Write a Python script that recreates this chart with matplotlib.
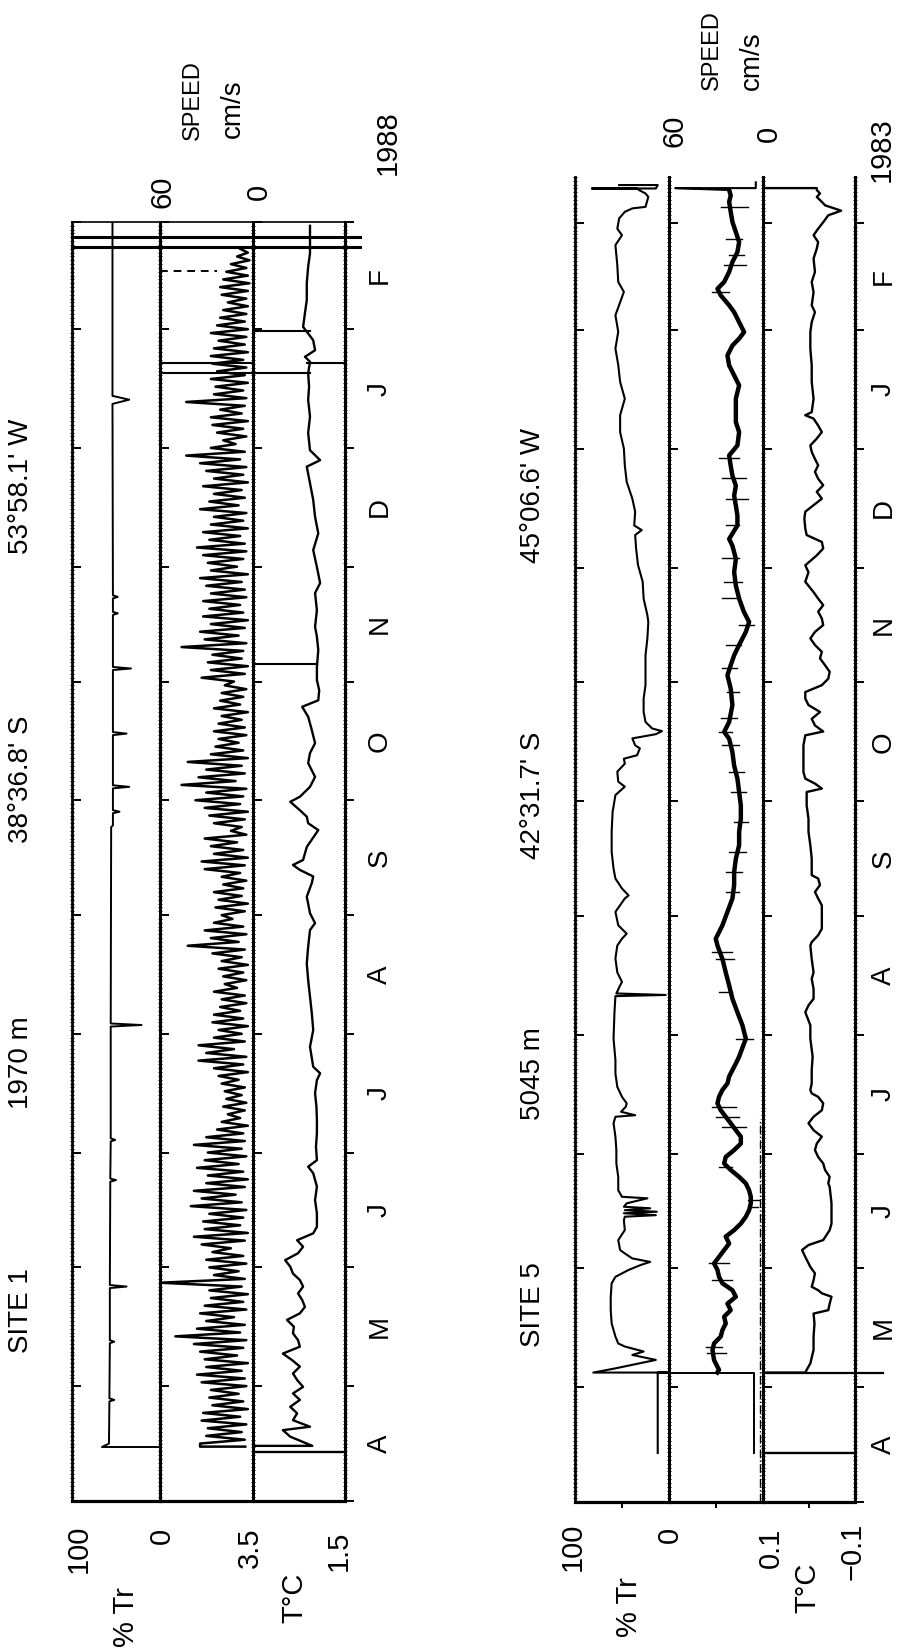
import numpy as np
import matplotlib
matplotlib.use('Agg')
import matplotlib.pyplot as plt
from matplotlib import transforms
from matplotlib.ticker import FixedLocator, MultipleLocator

plt.rcParams['font.family'] = ['Liberation Sans', 'DejaVu Sans']

# ------------------------------------------------------------------ data
# time axis: days since 1 April
month_starts = [0, 30, 61, 91, 122, 153, 183, 214, 244, 275, 306, 334]
month_labels = ['A', 'M', 'J', 'J', 'A', 'S', 'O', 'N', 'D', 'J', 'F']

# ---- SITE 1 (1987-88) ----
tr1_days = [14.1, 14.1, 15.0, 26.0, 26.4, 26.8, 41.2, 41.6, 42.0, 55.6, 56.0, 56.4,
            83.4, 83.8, 84.2, 93.9, 94.3, 94.7, 123.9, 124.3, 124.7, 176.0, 176.4,
            179.6, 180.0, 180.4, 186.1, 186.5, 186.9, 200.0, 200.4, 200.8, 217.0, 217.4,
            217.8, 231.4, 231.8, 232.2, 235.7, 236.1, 236.5, 286.5, 287.6, 288.6, 327.4, 334.0]
tr1_vals = [0, 66, 58, 57.5, 52, 57.5, 57, 52, 57, 57, 38, 57,
            56.5, 50, 56.5, 56, 51, 56, 56, 21, 56, 55.5, 53.5,
            53.5, 46, 53.5, 53.5, 35, 53.5, 53.5, 38, 53.5, 53.5, 33,
            53.5, 53.5, 48, 53.5, 53.5, 48, 53.5, 54, 35, 54, 54, 54]

spd1_start_days = [14.2, 14.2]
spd1_start_vals = [4.7, 34]
spd1_first_day = 15          # speed sampled once per day from here on
spd1_hi = [34, 30, 29, 33, 32, 26, 28, 27, 33, 36, 30, 31, 34, 38, 50, 36, 30, 34, 31, 27,
           28, 60, 25, 28, 30, 26, 33, 38, 31, 32, 28, 40, 33, 38, 30, 29, 36, 31, 29, 38,
           30, 23, 20, 16, 19, 17, 18, 20, 22, 25, 35, 30, 35, 25, 22, 26, 25, 21, 20, 25,
           18, 19, 22, 20, 26, 42, 27, 31, 25, 20, 24, 22, 25, 19, 20, 31, 33, 25, 27, 31,
           14, 25, 28, 31, 37, 30, 46, 35, 30, 42, 27, 24, 22, 25, 22, 20, 25, 21, 20, 18,
           33, 27, 29, 26, 46, 31, 34, 27, 32, 28, 32, 27, 30, 34, 27, 29, 32, 36, 28, 32,
           27, 25, 34, 28, 25, 32, 25, 30, 34, 43, 27, 19, 23, 26, 27, 21, 43, 25, 24, 27,
           23, 26, 27, 25, 22, 27, 23, 21, 19, 16, 20, 21, 19, 17, 14, 10, 8]
spd1_lo = [5, 7, 4, 8, 3, 6, 9, 4, 5, 7, 3, 10, 6, 4, 8, 5, 12, 4, 6, 3,
           7, 5, 9, 4, 6, 14, 5, 3, 8, 6, 4, 7, 11, 5, 3, 6, 9, 4, 7, 5,
           6, 3, 8, 5, 4, 7, 5, 9, 3, 6, 4, 12, 5, 7, 3, 6, 8, 4, 5, 10,
           4, 6, 3, 7, 5, 9, 4, 6, 13, 5, 3, 7, 6, 4, 8, 5, 3, 6, 10, 4,
           7, 5, 3, 8, 6, 4, 11, 5, 7, 3, 6, 9, 4, 5, 7, 3, 8, 6, 4, 12,
           5, 3, 7, 6, 4, 9, 5, 3, 6, 8, 4, 5, 7, 3, 10, 6, 4, 5, 8, 3,
           6, 4, 9, 5, 7, 3, 6, 4, 8, 5, 11, 4, 6, 3, 7, 5, 4, 6, 3, 5,
           4, 6, 3, 5, 4, 3, 5, 4, 3, 4, 3, 2, 3, 4, 2, 3]

t1_days = [12.8, 12.8, 14.4, 14.4,
           16.8, 18.5, 19.4, 21.1, 22.9, 24.6, 26.4, 28.1, 29.8, 31.6,
           33.3, 35.1, 36.8, 38.5, 40.3, 42.0, 43.8, 45.5, 47.3, 49.0,
           50.7, 52.5, 54.2, 56.0, 57.7, 59.4, 61.2, 62.9, 64.7, 66.4,
           68.1, 69.9, 71.6, 75.1, 78.6, 82.1, 85.6, 87.3, 89.0, 92.5,
           96.0, 99.5, 103.0, 106.5, 109.9, 111.7, 113.4, 118.6, 123.0, 127.3,
           131.7, 136.0, 140.4, 144.7, 149.1, 150.9, 153.5, 157.8, 161.4, 163.1,
           164.8, 166.1, 167.4, 170.8, 175.2, 177.0, 178.7, 180.4, 182.6, 183.9,
           186.5, 189.1, 192.7, 195.3, 197.9, 201.3, 204.8, 207.4, 209.1, 211.7,
           214.4, 217.8, 222.2, 225.7, 228.3, 232.6, 237.1, 239.7, 243.9, 248.3,
           252.7, 257.0, 261.4, 265.8, 270.1, 271.8, 274.4, 278.9, 283.2, 287.5,
           291.0, 294.5, 297.5, 298.8, 300.5, 303.1, 304.9, 306.6, 310.2, 313.6,
           318.0, 322.3, 325.8, 327.4, 333.0]
t1_vals = [1.5, 3.5, 3.5, 2.2,
           2.68, 2.84, 2.25, 2.62, 2.53, 2.68, 2.47, 2.62, 2.40, 2.53,
           2.62, 2.47, 2.64, 2.84, 2.47, 2.51, 2.62, 2.60, 2.75, 2.47,
           2.36, 2.42, 2.51, 2.40, 2.47, 2.62, 2.68, 2.79, 2.51, 2.40,
           2.53, 2.18, 2.10, 2.10, 2.14, 2.10, 2.18, 2.29, 2.10, 2.12,
           2.10, 2.10, 2.11, 2.14, 2.10, 2.03, 2.18, 2.25, 2.18, 2.21,
           2.25, 2.29, 2.32, 2.29, 2.25, 2.14, 2.25, 2.32, 2.21, 2.18,
           2.47, 2.62, 2.40, 2.32, 2.07, 2.29, 2.32, 2.47, 2.68, 2.47,
           2.25, 2.14, 2.29, 2.25, 2.14, 2.21, 2.29, 2.42, 2.07, 2.05,
           2.10, 2.10, 2.07, 2.10, 2.14, 2.10, 2.14, 2.03, 2.10, 2.18,
           2.07, 2.14, 2.18, 2.25, 2.32, 2.03, 2.25, 2.29, 2.25, 2.29,
           2.27, 2.29, 2.25, 2.36, 2.14, 2.18, 2.29, 2.40, 2.36, 2.32,
           2.32, 2.29, 2.25, 2.25, 2.25]

# recorder pen excursions (panel, day, from, to)
mk1_panel = ['spd', 'spd', 'T', 'T', 'T', 'T']
mk1_day = [297.1, 294.5, 294.5, 297.1, 305.5, 218.5]
mk1_v0 = [60, 60, 3.5, 2.32, 3.5, 3.5]
mk1_v1 = [0, 0, 2.25, 1.5, 2.25, 2.10]
dash1_day, dash1_v0, dash1_v1 = 321.3, 60, 23
end1_days = [327.4, 330.0]

# ---- SITE 5 (1982-83) ----
tr5_days = [12.8, 33.8, 33.8, 33.8,
            34.9, 37.1, 38.4, 39.3, 40.6, 41.4,
            43.2, 46.6, 50.1, 53.6, 57.1, 58.8,
            60.6, 61.9, 62.7, 63.6, 64.9, 65.8,
            68.4, 71.0, 73.6, 74.5,
            74.9, 75.4, 75.8, 76.2, 76.7, 77.1, 78.0, 79.3, 79.7,
            81.4, 84.9, 88.4, 91.9, 95.4, 98.9,
            100.6, 101.0, 101.9, 103.2, 104.1, 105.8,
            108.4, 111.9, 115.4, 121.0, 127.9,
            132.1, 132.4, 132.8, 134.9, 135.8,
            138.3, 141.9, 145.3, 147.1, 148.4,
            150.6, 154.1, 157.6, 158.4, 160.2,
            162.8, 165.4, 169.8, 175.0, 180.2,
            184.6, 186.8, 188.1, 190.7, 192.8,
            194.1, 195.0, 196.8, 197.6, 199.4,
            200.5, 201.3, 202.0, 203.7, 206.3,
            209.8, 213.3, 216.8, 221.1, 225.5, 229.8,
            231.6, 235.9, 240.3, 244.7, 249.0,
            252.5, 253.8, 255.0, 258.6, 262.0,
            266.4, 270.7, 275.1, 279.4, 283.8,
            288.1, 292.5, 296.9, 301.2, 305.6,
            309.9, 316.0, 318.6, 323.0, 328.2,
            330.8, 332.5, 335.2, 336.9, 337.8,
            338.2, 340.8, 341.7, 342.6,
            343.0, 343.0, 343.0, 343.9, 343.9]
tr5_vals = [12, 12, 0, 80.5,
            57, 14, 39, 27, 47, 54,
            57, 61, 62, 62, 61, 57,
            43, 30, 20, 39, 47, 52,
            54, 47, 48, 47,
            14, 48, 13, 47, 20, 48, 45, 23, 50,
            54, 54, 56, 56, 57, 59,
            57, 36, 51, 46, 45, 50,
            55, 57, 57, 59, 58,
            57, 3.5, 56, 52, 50,
            55, 57, 55, 50, 45,
            54, 57, 47, 43, 50,
            57, 59, 61, 61, 60,
            57, 47, 54, 55, 47,
            48, 34, 31, 36, 39,
            14, 7.5, 18, 25, 27,
            27, 25, 25, 25, 23, 22,
            23, 27, 28, 33, 35,
            36, 29, 37, 36, 39,
            45, 47, 48, 52, 52,
            47, 52, 54, 57, 54,
            57, 48, 54, 55, 57,
            50, 55, 53, 47, 39,
            25, 22, 25, 32,
            34, 82, 14, 12, 53]

# pre-deployment part of the speed record
spd5_pre_days = [12.8, 33.8, 33.8]
spd5_pre_vals = [5.4, 5.4, 59]
spd5_days = [33.8,
             34.5, 37.1, 39.7, 41.4, 43.2, 44.9, 46.6, 48.4, 50.1, 51.8,
             53.6, 55.3, 57.1, 58.8, 60.6, 62.3, 64.0, 65.8, 67.5, 69.3,
             71.0, 72.7, 74.5, 76.2, 78.0, 79.7, 81.4, 83.2, 84.9, 86.7,
             88.4, 90.1, 91.9, 93.6, 95.4, 97.1, 98.9, 100.6, 102.3, 104.1,
             105.8, 107.6, 109.3, 111.1, 112.8, 114.5, 116.3,
             121.0, 124.5, 127.9, 131.4, 134.9, 138.3, 141.8, 145.3, 147.1, 148.8,
             150.6, 154.1, 157.6, 161.1, 164.5, 168.0, 171.5, 175.0, 178.4, 181.9,
             185.4, 188.9, 192.3, 195.8, 199.3, 201.1, 203.7, 208.1, 212.4, 215.9,
             218.5, 221.1, 223.8, 227.2, 229.8, 232.5,
             235.9, 239.3, 242.8, 246.3, 249.7, 251.5, 255.0, 257.6, 260.2, 262.8,
             265.4, 268.0, 270.6, 273.3, 275.9, 279.4, 282.0, 284.6, 288.1, 291.6,
             295.1, 296.8, 299.4, 302.0, 303.8, 305.5, 308.1, 310.7, 312.5, 315.1,
             316.8, 318.6, 321.2, 323.8, 326.4, 329.0, 331.6, 334.3, 336.9, 339.5,
             341.2, 342.6]
spd5_vals = [29.0,
             27.9, 31.1, 32.1, 31.1, 26.8, 25.7, 23.6, 24.6, 20.4, 22.5,
             17.1, 19.3, 25.7, 27.9, 28.9, 31.1, 27.9, 24.6, 21.4, 23.6,
             18.2, 13.9, 10.7, 8.6, 7.5, 7.5, 8.6, 10.7, 15.0, 20.4,
             24.6, 23.6, 18.2, 13.9, 13.9, 17.1, 20.4, 23.6, 26.8, 28.9,
             27.9, 25.7, 22.5, 21.4, 19.3, 17.1, 15.0,
             10.7, 12.9, 16.1, 19.3, 21.4, 23.6, 25.7, 28.9, 30.0, 27.9,
             25.7, 22.5, 19.3, 18.2, 18.2, 17.1, 15.0, 15.0, 13.9, 13.9,
             15.0, 16.1, 18.2, 19.3, 21.4, 24.6, 21.4, 19.3, 20.4, 22.5,
             20.4, 18.2, 15.0, 10.7, 8.6, 12.0,
             15.0, 17.1, 18.2, 17.1, 19.3, 21.4, 16.1, 16.1, 17.1, 18.2,
             17.1, 19.3, 20.4, 21.4, 16.1, 15.0, 17.1, 17.1, 17.1, 15.0,
             19.3, 21.4, 22.5, 19.3, 15.0, 11.8, 15.0, 18.2, 21.4, 26.8,
             28.9, 24.6, 21.4, 19.3, 16.1, 15.0, 17.1, 19.3, 20.4, 21.4,
             20.4, 21.4]
# recovery: pen swings across the speed panel
spd5_end_days = [342.6, 343.1, 343.1, 344.6]
spd5_end_vals = [21.4, 56, 4.3, 4.3]
# short noise excursions on the speed record (day, low, high)
spk5_days = [338.2, 329.9, 325.6, 323.0, 316.0, 272.5, 267.3, 262.0, 255.1, 246.4,
             240.3, 236.0, 229.0, 223.8, 217.7, 211.5, 204.6, 201.1, 197.6, 190.7,
             185.4, 177.6, 169.8, 164.5, 159.3, 143.6, 141.8, 133.1, 121.0, 103.2,
             100.6, 98.0, 87.6, 78.9, 77.1, 62.3, 57.9, 40.6, 38.8]
spk5_lo = [9.6, 12.9, 11.8, 10.7, 21.4, 15.0, 10.7, 9.6, 15.0, 15.0,
           12.9, 17.1, 5.4, 13.9, 16.1, 15.0, 16.1, 19.3, 15.0, 11.8,
           10.7, 9.6, 10.7, 12.9, 15.0, 19.3, 18.2, 19.3, 6.4, 17.1,
           15.0, 10.7, 19.3, 2.1, 3.2, 21.4, 19.3, 25.7, 23.6]
spk5_hi = [26.8, 23.6, 21.4, 24.6, 32.1, 27.9, 25.7, 23.6, 23.6, 25.7,
           24.6, 25.7, 15.0, 23.6, 25.7, 22.5, 26.8, 27.9, 25.7, 21.4,
           20.4, 18.2, 21.4, 23.6, 23.6, 32.1, 30.0, 27.9, 17.1, 32.1,
           30.0, 25.7, 27.9, 9.6, 8.6, 34.3, 32.1, 36.4, 35.4]

t5_days = [12.8, 12.8, 33.8, 33.8,
           34.5, 36.2, 39.7, 43.2, 46.6, 49.2, 50.1, 51.8, 53.6, 54.5,
           55.3, 56.2, 57.9, 59.7, 61.4, 64.0, 65.8, 67.1, 68.4, 71.0,
           72.7, 78.0, 82.3, 83.2, 84.9, 86.7, 88.4, 90.1, 91.9, 93.6,
           95.4, 97.1, 98.9, 100.6, 102.3, 104.1, 105.8, 106.7, 107.6, 109.3,
           112.8, 116.3, 121.0, 124.5, 127.9, 129.7, 131.4, 134.0, 136.6, 138.3,
           141.8, 145.3, 146.2, 148.0, 149.7, 152.3, 155.8, 157.6, 159.3, 161.1,
           162.8, 163.7, 168.0, 171.5, 175.0, 178.4, 181.9, 185.4, 186.3, 187.6,
           188.9, 190.6, 197.6, 200.2, 201.2, 202.8, 204.5, 206.3, 208.1, 209.8,
           211.5, 213.3, 215.0, 216.8, 218.5, 220.3, 222.0, 223.8, 225.5, 227.2,
           229.0, 230.7, 232.5, 234.2, 235.9, 237.6, 240.3, 242.8, 244.6, 247.2,
           249.0, 250.7, 252.5, 254.2, 256.8, 258.6, 260.3, 262.0, 263.8, 265.5,
           267.2, 269.0, 270.7, 272.4, 274.2, 275.9, 277.7, 279.4, 281.1, 282.9,
           283.8, 284.6, 288.1, 292.5, 296.8, 301.2, 305.5, 308.1, 310.7, 312.5,
           315.9, 318.6, 321.2, 324.7, 327.3, 329.0, 330.8, 332.5, 334.2, 336.0,
           337.2, 338.6, 339.5, 340.8, 341.7, 342.6, 343.1, 343.1]
t5_vals = [-0.1, 0.1, 0.1, 0.007,
           0.004, -0.004, -0.011, -0.011, -0.013, -0.011, -0.043, -0.046, -0.050, -0.029,
           -0.021, -0.007, -0.011, -0.014, -0.004, 0.007, 0.014, 0.0, -0.032, -0.046,
           -0.050, -0.050, -0.046, -0.043, -0.046, -0.036, -0.032, -0.021, -0.014, -0.018,
           -0.029, -0.011, 0.0, -0.011, -0.029, -0.032, -0.021, -0.007, -0.004, -0.007,
           -0.007, -0.009, -0.004, -0.004, 0.007, 0.0, -0.011, -0.011, -0.007, -0.011,
           -0.007, -0.004, -0.007, -0.021, -0.029, -0.029, -0.029, -0.021, -0.014, -0.025,
           -0.021, -0.007, -0.007, -0.004, 0.0, 0.0, 0.004, 0.004, -0.029, -0.014,
           0.007, 0.011, 0.011, 0.007, -0.032, -0.014, -0.007, -0.025, 0.0, 0.007,
           0.007, -0.029, -0.043, -0.046, -0.036, -0.025, -0.029, -0.014, -0.004, -0.014,
           -0.032, -0.029, -0.021, -0.032, -0.021, -0.011, 0.007, 0.0, 0.007, -0.018,
           -0.032, -0.029, 0.004, 0.007, 0.009, 0.007, -0.011, -0.029, -0.018, -0.032,
           -0.021, -0.014, -0.021, -0.014, -0.007, -0.004, -0.018, -0.029, -0.021, -0.011,
           0.007, -0.007, -0.011, -0.007, -0.007, -0.004, -0.004, -0.007, -0.014, -0.007,
           -0.011, -0.007, -0.014, -0.011, -0.018, -0.021, -0.011, -0.021, -0.032, -0.043,
           -0.071, -0.036, -0.029, -0.018, -0.025, -0.018, -0.018, 0.1]
deploy5_day = 33.8
dashdot5_days = [0, 100]
dashdot5_val = 1.8

# ------------------------------------------------------------------ layout
W, H = 899, 1650
fig = plt.figure(figsize=(W / 100, H / 100), dpi=100)
K = 'black'


def panel(xl, xr, ybot, ytop, xlim, ylim, top_spine, last, midtick=None):
    ax = fig.add_axes([xl / W, 1 - ybot / H, (xr - xl) / W, (ybot - ytop) / H])
    ax.set_xlim(*xlim)
    ax.set_ylim(*ylim)
    ax.patch.set_alpha(0)
    for s in ('left', 'right'):
        ax.spines[s].set_linewidth(2.0)
    ax.spines['bottom'].set_linewidth(2.3)
    ax.spines['top'].set_visible(top_spine)
    ax.spines['top'].set_linewidth(1.2)
    if midtick is None:
        ax.set_xticks([])
    else:
        ax.set_xticks([midtick])
        ax.tick_params(axis='x', direction='out', length=4, width=1.4, labelbottom=False)
    ax.yaxis.set_major_locator(FixedLocator(month_starts))
    ax.yaxis.set_minor_locator(MultipleLocator(1))
    ax.tick_params(axis='y', which='major', direction='in', length=6.5, width=1.4,
                   left=True, right=False, labelleft=False)
    ax.tick_params(axis='y', which='minor', direction='inout', length=2.6, width=0.7,
                   left=True, right=False)
    if last:
        sec = ax.secondary_yaxis('right')
        sec.yaxis.set_major_locator(FixedLocator(month_starts))
        sec.yaxis.set_minor_locator(MultipleLocator(1))
        sec.tick_params(which='major', direction='out', length=6.5, width=1.4,
                        labelright=False, labelleft=False)
        sec.tick_params(which='minor', direction='inout', length=2.6, width=0.7)
        sec.spines['right'].set_linewidth(2.0)
    return ax


def vtext(x, y, s, size, ha='center', va='center', **kw):
    fig.text(x / W, 1 - y / H, s, rotation=90, ha=ha, va=va, fontsize=size, **kw)


# ---- site 1 panels
s1_x = [72, 160, 252.5, 344.5]
yb1, yt1 = 1501, 222
a1_tr = panel(s1_x[0], s1_x[1], yb1, yt1, (100, 0), (0, 334), True, False)
a1_sp = panel(s1_x[1], s1_x[2], yb1, yt1, (60, 0), (0, 334), True, False)
a1_t = panel(s1_x[2], s1_x[3], yb1, yt1, (3.5, 1.5), (0, 334), True, True)

a1_tr.plot(tr1_vals, tr1_days, color=K, lw=1.4)
spd1_days = list(spd1_start_days) + list(range(spd1_first_day, spd1_first_day + len(spd1_hi) + len(spd1_lo)))
spd1_body = [0.0] * (len(spd1_hi) + len(spd1_lo))
spd1_body[0::2] = spd1_hi
spd1_body[1::2] = spd1_lo
spd1_vals = list(spd1_start_vals) + spd1_body
a1_sp.plot(spd1_vals, spd1_days, color=K, lw=1.8, solid_joinstyle='round')
a1_t.plot(t1_vals, t1_days, color=K, lw=1.7)

axmap1 = {'spd': a1_sp, 'T': a1_t}
for p, d, v0, v1 in zip(mk1_panel, mk1_day, mk1_v0, mk1_v1):
    axmap1[p].plot([v0, v1], [d, d], color=K, lw=1.5)
a1_sp.plot([dash1_v0, dash1_v1], [dash1_day, dash1_day], color=K, lw=1.4, ls=(0, (4, 3)))
for d in end1_days:
    a1_tr.plot([100, 0], [d, d], color=K, lw=2.2, clip_on=False)
    a1_sp.plot([60, 0], [d, d], color=K, lw=2.2, clip_on=False)
    a1_t.plot([3.5, 1.16], [d, d], color=K, lw=2.2, clip_on=False)

# ---- site 5 panels
s5_x = [575, 669, 762.5, 854.5]
yb5, yt5 = 1502, 177
a5_tr = panel(s5_x[0], s5_x[1], yb5, yt5, (100, 0), (0, 346), False, False, 50)
a5_sp = panel(s5_x[1], s5_x[2], yb5, yt5, (60, 0), (0, 346), False, False, 30)
a5_t = panel(s5_x[2], s5_x[3], yb5, yt5, (0.1, -0.1), (0, 346), False, True, 0.0)

a5_tr.plot(tr5_vals, tr5_days, color=K, lw=1.5)
a5_sp.plot(spd5_pre_vals, spd5_pre_days, color=K, lw=1.4)
a5_sp.plot(spd5_vals, spd5_days, color=K, lw=3.2, solid_joinstyle='round')
a5_sp.plot(spd5_end_vals, spd5_end_days, color=K, lw=1.5)
for d, lo, hi in zip(spk5_days, spk5_lo, spk5_hi):
    a5_sp.plot([lo, hi], [d, d], color=K, lw=1.0)
a5_sp.plot([dashdot5_val, dashdot5_val], dashdot5_days, color=K, lw=1.0, ls='-.')
a5_t.plot(t5_vals, t5_days, color=K, lw=1.7)
a5_t.plot([0.1, -0.162], [deploy5_day, deploy5_day], color=K, lw=1.6, clip_on=False)

# ---- month labels
for ax, xm in ((a1_t, 380), (a5_t, 884)):
    tr = transforms.blended_transform_factory(fig.transFigure, ax.transData)
    for i, lab in enumerate(month_labels):
        ym = 0.5 * (month_starts[i] + month_starts[i + 1])
        ax.text(xm / W, ym, lab, transform=tr, rotation=90, ha='center', va='center',
                fontsize=20, clip_on=False)

# ---- scale labels
FS = 21
vtext(79, 1525, '100', FS, va='top')
vtext(162, 1528, '0', FS, va='top')
vtext(250, 1528, '3.5', FS, va='top')
vtext(339, 1531, '1.5', FS, va='top')
vtext(126, 1587, '% Tr', FS, va='top')
vtext(294, 1573, 'T°C', FS, va='top')
vtext(162, 208, '60', FS, va='bottom')
vtext(259, 200, '0', FS, va='bottom')
vtext(193, 140, 'SPEED', 17, va='bottom')
vtext(233, 138, 'cm/s', 20, va='bottom')
vtext(388, 175, '1988', FS, va='bottom')

vtext(573, 1523, '100', FS, va='top')
vtext(670, 1527, '0', FS, va='top')
vtext(771, 1528, '0.1', FS, va='top')
vtext(853, 1523, '\u22120.1', FS, va='top')
vtext(629, 1577, '% Tr', FS, va='top')
vtext(807, 1563, 'T°C', FS, va='top')
vtext(674, 147, '60', FS, va='bottom')
vtext(769, 142, '0', FS, va='bottom')
vtext(712, 90, 'SPEED', 17, va='bottom')
vtext(752, 90, 'cm/s', 20, va='bottom')
vtext(882, 182, '1983', FS, va='bottom')

# ---- titles
vtext(21, 1353, 'SITE 1', 20, va='bottom')
vtext(21, 1063, '1970 m', 20)
vtext(21, 779, "38°36.8' S", 20)
vtext(21, 486, "53°58.1' W", 20)
vtext(533, 1347, 'SITE 5', 20, va='bottom')
vtext(533, 1074, '5045 m', 20)
vtext(533, 795, "42°31.7' S", 20)
vtext(533, 495, "45°06.6' W", 20)

fig.savefig('out.png', dpi=100)
